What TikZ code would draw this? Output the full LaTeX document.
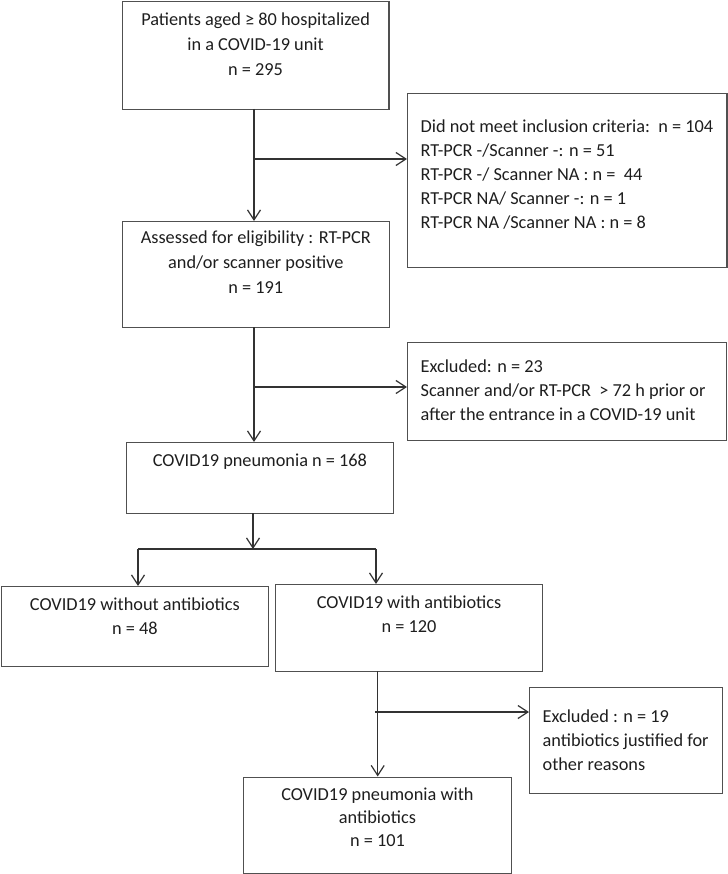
\documentclass[tikz,border=0pt]{standalone}
\usepackage{fontspec}
\setmainfont{Carlito}
\usetikzlibrary{arrows.meta}
\definecolor{boxcol}{RGB}{80,80,80}
\definecolor{linecol}{RGB}{50,50,50}
\definecolor{txtcol}{RGB}{30,30,30}
\newcommand{\cbox}[5]{% width height firstbaseline baselineskip text
  \parbox[c][#2][t]{#1}{\fontsize{18.3}{#4}\selectfont\centering\rule{0pt}{#3}#5\par}}
\newcommand{\lbox}[6]{% width height firstbaseline baselineskip leftmargin text
  \parbox[c][#2][t]{#1}{\fontsize{18.3}{#4}\selectfont\raggedright\leftskip=#5\rule{0pt}{#3}#6\par}}
\tikzset{
  flowbox/.style={draw=boxcol, line width=1.2pt, inner sep=0pt, anchor=north west, text=txtcol},
  arr/.style={draw=linecol, line width=1.2pt, -{Straight Barb[length=10pt,width=13pt,line width=1.2pt]}},
  ln/.style={draw=linecol, line width=1.2pt}
}
\begin{document}
\begin{tikzpicture}[x=1pt,y=-1pt]
\useasboundingbox (0,0) rectangle (727,874);
% boxes
\node[flowbox] (b1) at (121.7,0.6) {\cbox{266.6pt}{108.4pt}{24.5pt}{25pt}{Patients aged ≥ 80 hospitalized\\in a COVID-19 unit\\n = 295}};
\node[flowbox] (b2) at (407,93) {\lbox{319.4pt}{174pt}{39pt}{24pt}{13pt}{Did not meet inclusion criteria:\ \ n = 104\\RT-PCR -/Scanner -: n = 51\\RT-PCR -/ Scanner NA : n = \ 44\\RT-PCR NA/ Scanner -: n = 1\\RT-PCR NA /Scanner NA : n = 8}};
\node[flowbox] (b3) at (121.7,221) {\cbox{267pt}{106pt}{22pt}{25pt}{Assessed for eligibility : RT-PCR\\and/or scanner positive\\n = 191}};
\node[flowbox] (b4) at (407,342) {\lbox{319pt}{98pt}{30pt}{24pt}{13pt}{Excluded: n = 23\\Scanner and/or RT-PCR \ > 72 h prior or\\after the entrance in a COVID-19 unit}};
\node[flowbox] (b5) at (125.7,442) {\cbox{267.3pt}{71pt}{24pt}{24pt}{COVID19 pneumonia n = 168}};
\node[flowbox] (bl) at (0.6,586) {\cbox{267.4pt}{80pt}{24pt}{23.5pt}{COVID19 without antibiotics\\n = 48}};
\node[flowbox] (br) at (275,584) {\cbox{267pt}{87pt}{24pt}{24pt}{COVID19 with antibiotics\\n = 120}};
\node[flowbox] (be) at (529,687) {\lbox{193pt}{106pt}{35pt}{24pt}{13pt}{Excluded : n = 19\\antibiotics justified for\\other reasons}};
\node[flowbox] (bb) at (243,776.5) {\cbox{267.7pt}{96pt}{23.5pt}{22.8pt}{COVID19 pneumonia with\\antibiotics\\n = 101}};
% junction coordinates
\coordinate (t1) at (254,109);
\coordinate (j1) at (254,159);
\coordinate (t2) at (254,327);
\coordinate (j2) at (254,387);
\coordinate (t3) at (253,513);
\coordinate (j3) at (253,549);
\coordinate (jl) at (138,549);
\coordinate (jr) at (376,549);
\coordinate (t4) at (377.7,671);
\coordinate (j4s) at (375,712);
% connectors
\draw[arr] (t1) -- (t1 |- b3.north);
\draw[arr] (j1) -- (b2.west |- j1);
\draw[arr] (t2) -- (t2 |- b5.north);
\draw[arr] (j2) -- (b4.west |- j2);
\draw[arr] (t3) -- (j3);
\draw[ln] (jl) -- (jr);
\draw[arr] (jl) -- (jl |- bl.north);
\draw[arr] (jr) -- (jr |- br.north);
\draw[arr] (t4) -- (t4 |- bb.north);
\draw[arr] (j4s) -- (be.west |- j4s);
\end{tikzpicture}
\end{document}
